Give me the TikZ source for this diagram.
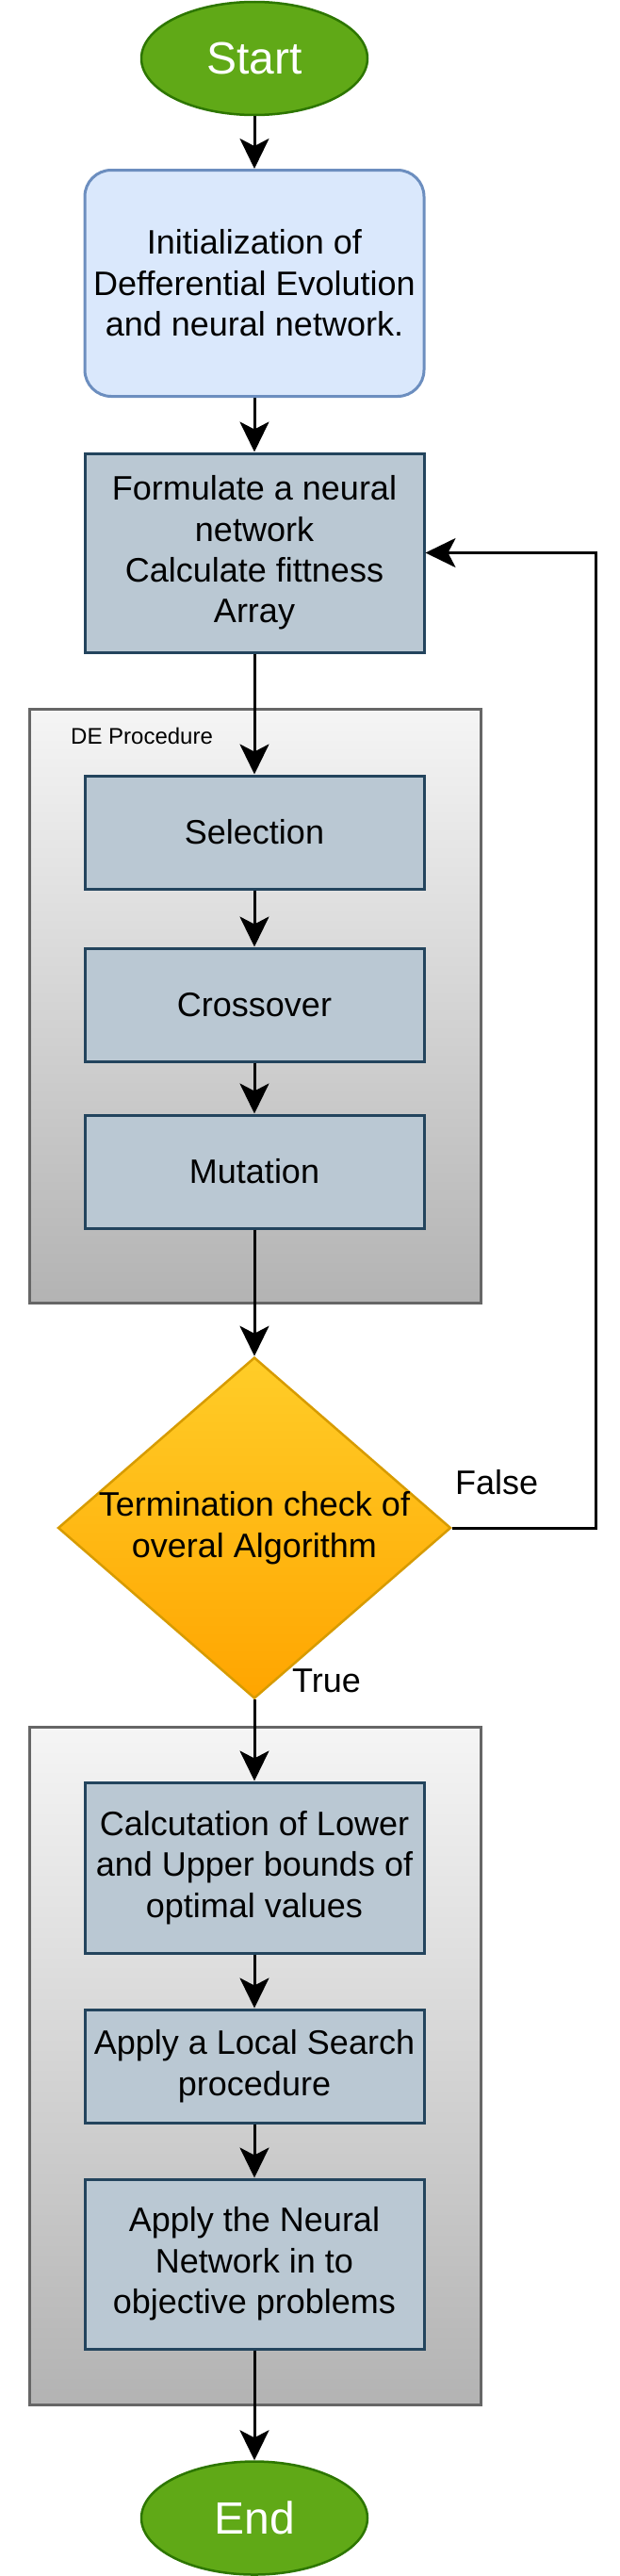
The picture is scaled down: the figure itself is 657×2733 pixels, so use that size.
\documentclass[tikz,border=0pt]{standalone}
\usepackage{fontspec}
\setmainfont{Liberation Sans}
\usetikzlibrary{shapes.geometric,arrows.meta}
\definecolor{termgreen}{RGB}{96,169,23}
\definecolor{termgreenline}{RGB}{45,118,0}
\definecolor{initblue}{RGB}{218,232,252}
\definecolor{initblueline}{RGB}{108,142,191}
\definecolor{stepgray}{RGB}{186,200,211}
\definecolor{stepgrayline}{RGB}{35,68,93}
\definecolor{grouptop}{RGB}{245,245,245}
\definecolor{groupbottom}{RGB}{179,179,179}
\definecolor{groupline}{RGB}{102,102,102}
\definecolor{checktop}{RGB}{255,205,40}
\definecolor{checkbottom}{RGB}{255,165,0}
\definecolor{checkline}{RGB}{215,155,0}
\newcommand{\boxfont}{\fontsize{36}{43.4}\selectfont}
\tikzset{
    termbox/.style={
        ellipse,
        draw=termgreenline,
        fill=termgreen,
        line width=2.5pt,
        minimum width=240pt,
        minimum height=120pt,
        inner sep=0pt,
        text=white,
        font=\fontsize{48}{57.6}\selectfont
    },
    initbox/.style={
        rectangle,
        rounded corners=28pt,
        draw=initblueline,
        fill=initblue,
        line width=3pt,
        minimum width=360pt,
        inner sep=4pt,
        align=center,
        font=\boxfont
    },
    stepbox/.style={
        rectangle,
        draw=stepgrayline,
        fill=stepgray,
        line width=3pt,
        minimum width=360pt,
        inner sep=4pt,
        align=center,
        font=\boxfont
    },
    groupbox/.style={
        rectangle,
        draw=groupline,
        top color=grouptop,
        bottom color=groupbottom,
        line width=3pt,
        minimum width=479pt
    },
    decisionbox/.style={
        diamond,
        draw=checkline,
        top color=checktop,
        bottom color=checkbottom,
        line width=2.5pt,
        minimum width=417pt,
        minimum height=362pt,
        inner sep=0pt
    },
    flowarrow/.style={
        draw=black,
        line width=3pt,
        -{Stealth[length=32pt,width=31pt,inset=8pt]}
    },
    flowlabel/.style={
        anchor=base west,
        inner sep=0pt,
        font=\boxfont
    }
}

\begin{document}
\begin{tikzpicture}[x=1pt,y=-1pt]
\useasboundingbox (0,0) rectangle (657,2733);

% ---------------------------------------------------------
% Group frames
% ---------------------------------------------------------
\node[groupbox, minimum height=630pt] (deproc) at (270.5,1067) {};
\node[groupbox, minimum height=719pt] (finalproc) at (270.5,2191.5) {};
\node[anchor=base west, inner sep=0pt,
      font=\fontsize{24}{28.8}\selectfont] (delabel) at (75,789) {DE Procedure};

% ---------------------------------------------------------
% Steps
% ---------------------------------------------------------
\node[termbox] (start) at (270,62) {Start};
\node[initbox, minimum height=240pt] (init) at (270,300.5)
    {Initialization of\\Defferential Evolution\\and neural network.};
\node[stepbox, minimum height=211pt] (formulate) at (270,586.5)
    {Formulate a neural\\network\\Calculate fittness\\Array};

% DE procedure: one box per operator
\foreach \name/\txt/\y in {
    selection/Selection/883,
    crossover/Crossover/1066,
    mutation/Mutation/1243%
}
{
    \node[stepbox, minimum height=120pt] (\name) at (270,\y) {\txt};
}

\node[decisionbox,
      label={[align=center, font=\boxfont]center:Termination check of\\overal Algorithm}]
    (check) at (270,1621) {};

\node[stepbox, minimum height=181pt] (bounds) at (270,1981.5)
    {Calcutation of Lower\\and Upper bounds of\\optimal values};
\node[stepbox, minimum height=120pt] (localsearch) at (270,2192)
    {Apply a Local Search\\procedure};
\node[stepbox, minimum height=180pt] (applynn) at (270,2402)
    {Apply the Neural\\Network in to\\objective problems};
\node[termbox] (stop) at (270,2671.5) {End};

% ---------------------------------------------------------
% Connectors
% ---------------------------------------------------------
\foreach \from/\to in {
    start/init,
    init/formulate,
    formulate/selection,
    selection/crossover,
    crossover/mutation,
    mutation/check,
    check/bounds,
    bounds/localsearch,
    localsearch/applynn,
    applynn/stop%
}
{
    \draw[flowarrow] (\from.south) -- (\to.north);
}

% loop back when the check fails
\draw[flowarrow] (check.east) -- ++(152.5,0) |- (formulate.east);

\node[flowlabel] (falselabel) at (483,1585) {False};
\node[flowlabel] (truelabel) at (310,1795) {True};

\end{tikzpicture}
\end{document}
